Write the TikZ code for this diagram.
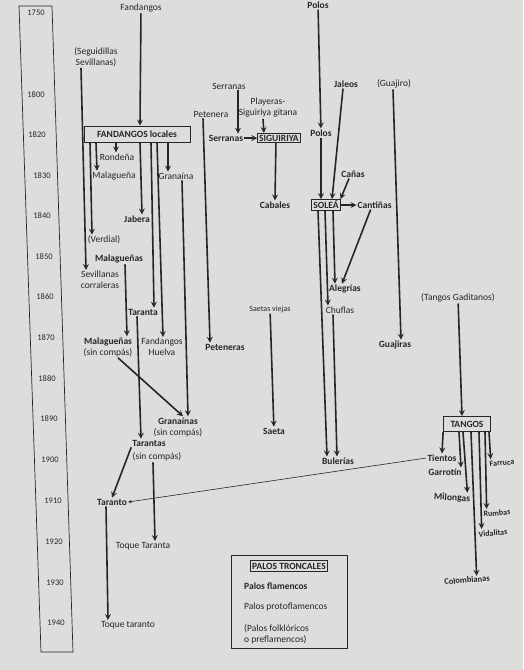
\documentclass[tikz,border=0pt]{standalone}
\usepackage{fontspec}
\setmainfont{Carlito}
\usepackage{xcolor}
\usepackage{tikz}
\usetikzlibrary{shapes,arrows,positioning}
\definecolor{pagegray}{RGB}{221,221,219}
\definecolor{ink}{RGB}{38,38,38}

\begin{document}
\begin{tikzpicture}[x=1pt, y=-1pt, >=stealth, text=ink, font=\fontsize{9.5}{11}\selectfont]
    % Define styles
    \tikzstyle{year} = [font=\fontsize{8.5}{9}\selectfont, inner sep=1pt]
    \tikzstyle{flam} = [font=\fontsize{9.5}{11}\selectfont\bfseries, inner sep=1pt]
    \tikzstyle{proto} = [inner sep=1pt, align=center]
    \tikzstyle{minor} = [font=\fontsize{8}{9}\selectfont\bfseries, inner sep=1pt]
    \tikzstyle{troncal} = [draw=ink, thick, font=\fontsize{9.5}{11}\selectfont\bfseries, inner sep=2pt]
    \tikzstyle{line} = [draw=ink, ->, line width=1.6pt]
    \tikzstyle{longline} = [draw=ink, ->, line width=0.6pt]

    % Page and time scale
    \fill[pagegray] (0,0) rectangle (523,670);
    \useasboundingbox (0,0) rectangle (523,670);
    \draw[ink, line width=0.7pt] (19,6) -- (52,6) -- (73,652) -- (41,652) -- cycle;
    \node[year] (y1750) at (36,13) {1750};
    \node[year] (y1800) at (36,95) {1800};
    \node[year] (y1820) at (37,135) {1820};
    \node[year] (y1830) at (42,176) {1830};
    \node[year] (y1840) at (42,216) {1840};
    \node[year] (y1850) at (44,257) {1850};
    \node[year] (y1860) at (45,297) {1860};
    \node[year] (y1870) at (46,338) {1870};
    \node[year] (y1880) at (47,379) {1880};
    \node[year] (y1890) at (49,419) {1890};
    \node[year] (y1900) at (50,460) {1900};
    \node[year] (y1910) at (53,501) {1910};
    \node[year] (y1920) at (54,542) {1920};
    \node[year] (y1930) at (55,583) {1930};
    \node[year] (y1940) at (56,623) {1940};

    % Nodes: fandangos
    \node[proto] (fandangos) at (141,8) {Fandangos};
    \node[proto] (seguid) at (96,57) {(Seguidillas\\Sevillanas)};
    \node[troncal, minimum width=106pt, minimum height=16pt] (fl) at (137,134) {FANDANGOS locales};
    \node[proto] (rondena) at (117,157) {Rondeña};
    \node[proto] (malaguena) at (114,176) {Malagueña};
    \node[proto] (granaina) at (176,176) {Granaína};
    \node[flam] (jabera) at (137,219) {Jabera};
    \node[proto] (verdial) at (104,240) {(Verdial)};
    \node[flam] (malaguenas) at (119,259) {Malagueñas};
    \node[proto] (sevcorr) at (100,280) {Sevillanas\\corraleras};
    \node[flam] (taranta) at (143,312) {Taranta};
    \node[proto] (msc) at (108,347) {\textbf{Malagueñas}\\(sin compás)};
    \node[proto] (huelva) at (162,347) {Fandangos\\Huelva};
    \node[proto] (granainas) at (178,427) {\textbf{Granaínas}\\(sin compás)};
    \node[flam] (tarantas) at (149,443) {Tarantas};
    \node[proto] (tarsc) at (157,457) {(sin compás)};
    \node[flam] (taranto) at (112,502) {Taranto};
    \node[proto] (toqueta) at (143,546) {Toque Taranta};
    \node[proto] (toqueto) at (128,625) {Toque taranto};

    % Nodes: peteneras, siguiriya
    \node[proto] (petenera) at (211,114) {Petenera};
    \node[flam] (peteneras) at (225,347) {Peteneras};
    \node[proto] (serr1) at (229,86) {Serranas};
    \node[proto] (playeras) at (268,108) {Playeras-\\Siguiriya gitana};
    \node[flam] (serr2) at (226,138) {Serranas};
    \node[troncal, right=13pt of serr2, inner sep=1.5pt] (sig) {SIGUIRIYA};
    \node[flam] (cabales) at (275,205) {Cabales};
    \node[minor, font=\fontsize{8}{9}\selectfont] (saetasv) at (270,309) {Saetas viejas};
    \node[flam] (saeta) at (274,431) {Saeta};

    % Nodes: solea
    \node[flam] (polos0) at (318,5) {Polos};
    \node[flam] (polos) at (321,133) {Polos};
    \node[flam] (jaleos) at (346,84) {Jaleos};
    \node[proto] (guajiro) at (394,84) {(Guajiro)};
    \node[flam] (canas) at (353,174) {Cañas};
    \node[troncal, inner sep=1.5pt] (solea) at (326,205) {SOLEÁ};
    \node[flam, right=16pt of solea] (cantinas) {Cantiñas};
    \node[flam] (alegrias) at (345,289) {Alegrías};
    \node[proto] (chuflas) at (340,310) {Chuflas};
    \node[flam] (bulerias) at (338,461) {Bulerías};
    \node[flam] (guajiras) at (395,345) {Guajiras};

    % Nodes: tangos
    \node[proto] (tgad) at (458,298) {(Tangos Gaditanos)};
    \node[troncal, minimum width=47pt, minimum height=15pt, inner sep=1pt] (tangos) at (467,424) {TANGOS};
    \node[flam] (tientos) at (442,458) {Tientos};
    \node[flam] (garrotin) at (445,472) {Garrotín};
    \node[flam, rotate=-4] (milongas) at (452,498) {Milongas};
    \node[minor, rotate=5] (farruca) at (502,463) {Farruca};
    \node[minor, rotate=5] (rumbas) at (497,513) {Rumbas};
    \node[minor, rotate=5] (vidal) at (493,533) {Vidalitas};
    \node[minor, rotate=5, font=\fontsize{8.5}{9}\selectfont\bfseries] (colomb) at (467,580) {Colombianas};

    % Legend
    \node[draw=ink, thick, minimum width=116pt, minimum height=93pt] (legend) at (289,602) {};
    \node[troncal] (ptronc) at (289,566) {PALOS TRONCALES};
    \node[flam, anchor=west] (pflam) at (243,586) {Palos flamencos};
    \node[proto, anchor=west] (pproto) at (243,607) {Palos protoflamencos};
    \node[proto, anchor=west, align=left] (pfolk) at (243,634) {(Palos folklóricos\\o preflamencos)};

    % Arrows: fandangos
    \draw [line] (fandangos) -- ([xshift=3pt]fl.north);
    \draw [line] ([xshift=-15pt]seguid.south) -- ([xshift=-14pt]sevcorr.north);
    \draw [line] ([xshift=-47pt]fl.south) -- ([xshift=-12pt]verdial.north);
    \draw [line] ([xshift=-41pt]fl.south) -- ([xshift=-17pt]malaguena.north);
    \draw [line] ([xshift=-21pt]fl.south) -- ([xshift=-1pt]rondena.north);
    \draw [line] ([xshift=3pt]fl.south) -- ([xshift=5pt]jabera.north);
    \draw [line] ([xshift=14pt]fl.south) -- ([xshift=11pt]taranta.north);
    \draw [line] ([xshift=20pt]fl.south) -- ([xshift=1pt]huelva.north);
    \draw [line] ([xshift=31pt]fl.south) -- ([xshift=-8pt]granaina.north);
    \draw [line] ([xshift=6pt]granaina.south) -- ([xshift=10pt]granainas.north);
    \draw [line] ([xshift=6pt]malaguenas.south) -- ([xshift=19pt]msc.north);
    \draw [line] ([xshift=10pt]msc.south) -- ([xshift=5pt]granainas.north);
    \draw [line] ([xshift=-6pt]taranta.south) -- ([xshift=-8pt]tarantas.north);
    \draw [line] (tarantas.south west) -- (taranto.north);
    \draw [line] ([xshift=-4pt]tarsc.south) -- ([xshift=12pt]toqueta.north);
    \draw [line] ([xshift=-6pt]taranto.south) -- ([xshift=-20pt]toqueto.north);
    \draw [longline] (tientos.west) -- (taranto.east);

    % Arrows: peteneras, siguiriya
    \draw [line] ([xshift=-8pt]petenera.south) -- ([xshift=-15pt]peteneras.north);
    \draw [line] ([xshift=9pt]serr1.south) -- ([xshift=12pt]serr2.north);
    \draw [line] ([xshift=-5pt]playeras.south) -- ([xshift=-15pt]sig.north);
    \draw [line] (serr2) -- (sig);
    \draw [line] ([xshift=-3pt]sig.south) -- (cabales.north);
    \draw [line] (saetasv) -- (saeta);

    % Arrows: solea
    \draw [line] (polos0) -- (polos);
    \draw [line] (polos.south) -- ([xshift=-5pt]solea.north);
    \draw [line] ([xshift=-3pt]jaleos.south) -- ([xshift=6pt]solea.north);
    \draw [line] ([xshift=-1pt]guajiro.south) -- ([xshift=6pt]guajiras.north);
    \draw [line] ([xshift=-4pt]canas.south) -- (solea.north east);
    \draw [line] (solea) -- (cantinas);
    \draw [line] ([xshift=-4pt]cantinas.south) -- ([xshift=-3pt]alegrias.north);
    \draw [line] ([xshift=-8pt]solea.south) -- ([xshift=-11pt]bulerias.north);
    \draw [line] ([xshift=-1pt]solea.south) -- ([xshift=-12pt]chuflas.north);
    \draw [line] ([xshift=7pt]solea.south) -- ([xshift=-10pt]alegrias.north);
    \draw [line] ([xshift=-7pt]chuflas.south) -- ([xshift=-1pt]bulerias.north);

    % Arrows: tangos
    \draw [line] (tgad) -- ([xshift=-5pt]tangos.north);
    \draw [line] (tangos.south west) -- (tientos.north);
    \draw [line] ([xshift=-8pt]tangos.south) -- ([xshift=16pt]garrotin.north);
    \draw [line] ([xshift=-4pt]tangos.south) -- ([xshift=15pt]milongas.north);
    \draw [line] ([xshift=4pt]tangos.south) -- ([xshift=10pt]colomb.north);
    \draw [line] ([xshift=12pt]tangos.south) -- ([xshift=-11pt]vidal.north);
    \draw [line] ([xshift=18pt]tangos.south) -- ([xshift=-10pt]rumbas.north);
    \draw [line] ([xshift=22pt]tangos.south) -- ([xshift=-11pt]farruca.north);
\end{tikzpicture}
\end{document}
